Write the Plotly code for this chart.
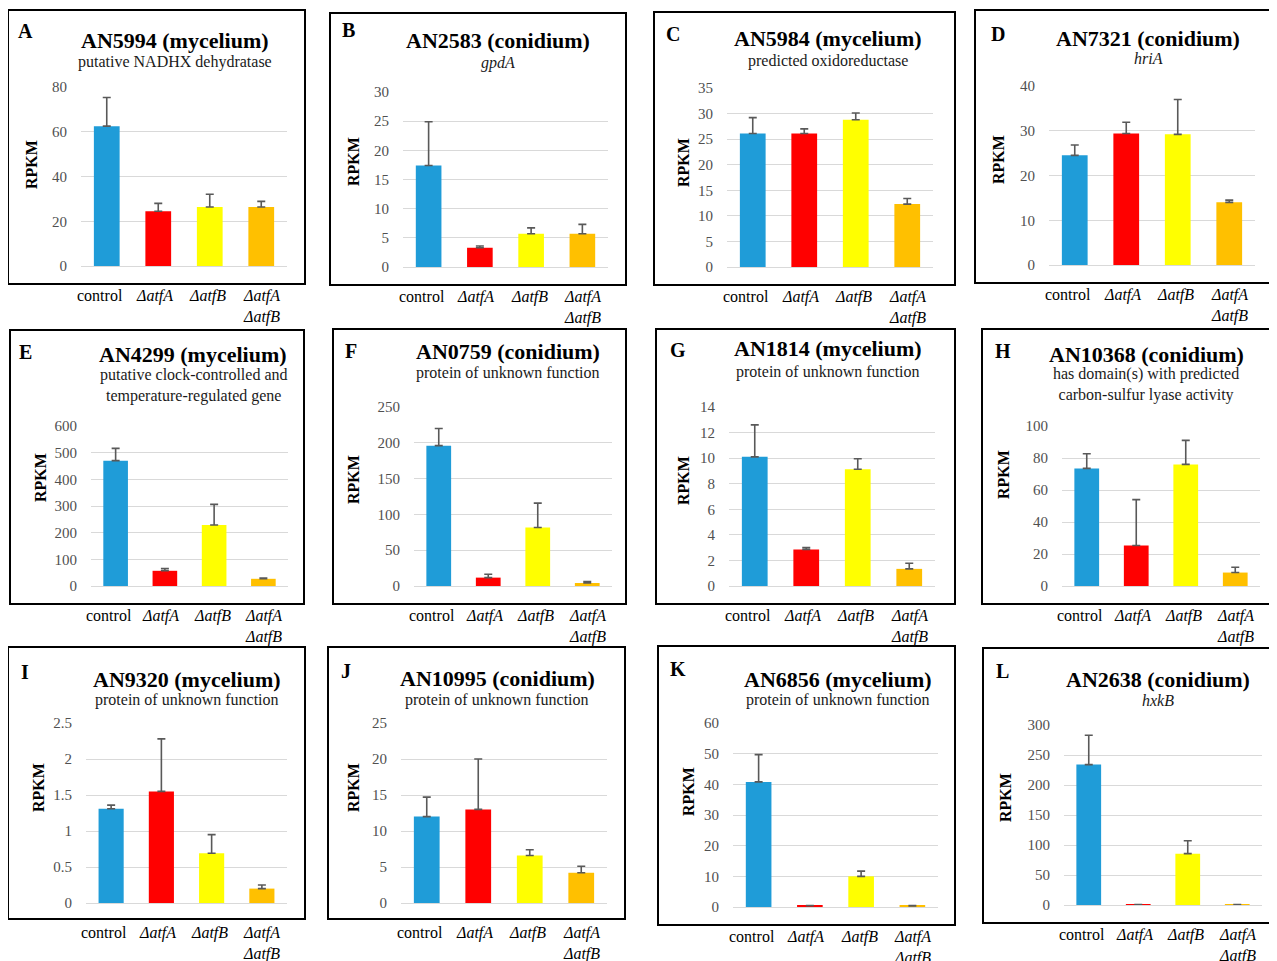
import plotly.graph_objects as go

# ---------------- data ----------------
categories = ["control", "ΔatfA", "ΔatfB", "ΔatfA ΔatfB"]
category_labels = ["control", "<i>ΔatfA</i>", "<i>ΔatfB</i>", "<i>ΔatfA<br>ΔatfB</i>"]
bar_colors = ["#1F9CD8", "#FF0000", "#FFFF00", "#FFC000"]

panel_letters = ["A", "B", "C", "D", "E", "F", "G", "H", "I", "J", "K", "L"]
panel_titles = ["AN5994 (mycelium)", "AN2583 (conidium)", "AN5984 (mycelium)", "AN7321 (conidium)",
                "AN4299 (mycelium)", "AN0759 (conidium)", "AN1814 (mycelium)", "AN10368 (conidium)",
                "AN9320 (mycelium)", "AN10995 (conidium)", "AN6856 (mycelium)", "AN2638 (conidium)"]
panel_subtitles = ["putative NADHX dehydratase", "<i>gpdA</i>", "predicted oxidoreductase", "<i>hriA</i>",
                   "putative clock-controlled and<br>temperature-regulated gene",
                   "protein of unknown function", "protein of unknown function",
                   "has domain(s) with predicted<br>carbon-sulfur lyase activity",
                   "protein of unknown function", "protein of unknown function",
                   "protein of unknown function", "<i>hxkB</i>"]

AN5994_mean = [62.5, 24.5, 26.4, 26.4]
AN5994_err = [12.8, 3.5, 5.7, 2.5]
AN2583_mean = [17.4, 3.3, 5.7, 5.7]
AN2583_err = [7.5, 0.3, 1.0, 1.6]
AN5984_mean = [26.1, 26.1, 28.8, 12.3]
AN5984_err = [3.1, 0.9, 1.3, 1.1]
AN7321_mean = [24.5, 29.4, 29.2, 14.0]
AN7321_err = [2.3, 2.5, 7.8, 0.5]
AN4299_mean = [470, 57, 229, 27]
AN4299_err = [46, 8, 77, 3]
AN0759_mean = [196, 11.7, 81.8, 4.2]
AN0759_err = [24, 4.7, 34, 2]
AN1814_mean = [10.1, 2.85, 9.13, 1.34]
AN1814_err = [2.5, 0.15, 0.82, 0.44]
AN10368_mean = [73.5, 25.3, 76.0, 8.4]
AN10368_err = [9.2, 28.7, 15.0, 3.3]
AN9320_mean = [1.31, 1.55, 0.69, 0.20]
AN9320_err = [0.05, 0.73, 0.26, 0.05]
AN10995_mean = [12.0, 13.0, 6.6, 4.2]
AN10995_err = [2.7, 7.0, 0.8, 0.9]
AN6856_mean = [40.8, 0.4, 10.0, 0.35]
AN6856_err = [8.9, 0.1, 1.7, 0.1]
AN2638_mean = [234, 0.5, 85.6, 0.5]
AN2638_err = [49, 0.3, 21.4, 0.3]

y_max = [80, 30, 35, 40, 600, 250, 14, 100, 2.5, 25, 60, 300]
y_dtick = [20, 5, 5, 10, 100, 50, 2, 20, 0.5, 5, 10, 50]

means = [AN5994_mean, AN2583_mean, AN5984_mean, AN7321_mean, AN4299_mean, AN0759_mean,
         AN1814_mean, AN10368_mean, AN9320_mean, AN10995_mean, AN6856_mean, AN2638_mean]
errs = [AN5994_err, AN2583_err, AN5984_err, AN7321_err, AN4299_err, AN0759_err,
        AN1814_err, AN10368_err, AN9320_err, AN10995_err, AN6856_err, AN2638_err]

# ---------------- layout geometry (pixels in the screenshot) ----------------
W, H = 1277, 961
OFF = 8  # default page body margin
# plot area: x0, x1, y_top(max tick), y_bottom(0)
plot_px = [(81, 287, 87, 266), (403, 608, 92, 267), (727, 933, 88, 267), (1049, 1255, 86, 265),
           (91, 288, 426, 586), (414, 612, 407, 586), (729, 935, 407, 586), (1062, 1260, 426, 586),
           (86, 287, 723, 903), (401, 607, 723, 903), (733, 938, 723, 907), (1064, 1262, 725, 905)]
# frame boxes: x0, y0, x1, y1
box_px = [(8, 10, 305, 284), (330, 13, 626, 285), (654, 12, 955, 285), (975, 10, 1273, 283),
          (10, 330, 304, 604), (333, 329, 626, 604), (656, 329, 955, 604), (982, 329, 1300, 604),
          (8, 647, 305, 919), (328, 647, 625, 919), (658, 646, 955, 925), (983, 648, 1300, 923)]
letter_px = [(25, 31), (348, 30), (673, 34), (998, 34), (25, 352), (351, 351), (678, 350), (1003, 351),
             (25, 672), (346, 671), (678, 669), (1002, 671)]
title_px = [(175, 41), (498, 40), (828, 39), (1148, 38), (193, 354), (508, 352), (828, 348), (1146, 355),
            (187, 679), (497, 678), (838, 679), (1158, 679)]
sub_px = [(175, 62), (498, 63), (828, 61), (1148, 59), (193, 385), (508, 373), (828, 372), (1146, 384),
          (187, 700), (497, 700), (838, 700), (1158, 700)]
rpkm_px = [(32, 165), (353, 162), (683, 162), (998, 160), (40, 478), (353, 480), (683, 480), (1003, 475),
           (38, 788), (353, 788), (688, 792), (1005, 798)]
label_shift_px = [-7, -4, -2, 0]


def fx(p):
    return (p - OFF) / W


def fy(p):
    return 1 - (p - OFF) / H


SERIF = "Liberation Serif, Times New Roman, serif"

fig = go.Figure()
layout = dict(
    width=W, height=H, margin=dict(l=0, r=0, t=0, b=0, pad=0, autoexpand=False),
    paper_bgcolor="white", plot_bgcolor="white", showlegend=False,
    bargap=0.5, font=dict(family=SERIF, color="#000000"),
)
annotations = []
shapes = []

for i in range(12):
    n = "" if i == 0 else str(i + 1)
    x0, x1, yt, yb = plot_px[i]
    fig.add_trace(go.Bar(
        x=categories, y=means[i], marker=dict(color=bar_colors, line=dict(width=0)),
        error_y=dict(type="data", array=errs[i], arrayminus=[0] * 4, symmetric=False,
                     color="#595959", thickness=1.6, width=4),
        xaxis="x" + n, yaxis="y" + n,
    ))
    layout["xaxis" + n] = dict(
        domain=[fx(x0), fx(x1)], anchor="y" + n, type="category", automargin=False,
        range=[-0.5, 3.5], showticklabels=False, ticks="",
        showline=True, linecolor="#D9D9D9", linewidth=1.3, showgrid=False, fixedrange=True,
    )
    layout["yaxis" + n] = dict(
        domain=[fy(yb), fy(yt)], anchor="x" + n, range=[0, y_max[i]], dtick=y_dtick[i], tick0=0,
        automargin=False,
        showgrid=True, gridcolor="#D9D9D9", gridwidth=1.3, zeroline=False, showline=False,
        ticks="outside", ticklen=10, tickcolor="rgba(0,0,0,0)",
        tickfont=dict(family=SERIF, size=15, color="#505050"), fixedrange=True,
    )
    # category labels, placed on the category axis
    for c, lab, sh in zip(categories, category_labels, label_shift_px):
        annotations.append(dict(text=lab, x=c, xref="x" + n, y=fy(yb + 19), yref="paper",
                                xshift=sh, showarrow=False, xanchor="center", yanchor="top",
                                align="center", font=dict(family=SERIF, size=16, color="#000000")))
    bx0, by0, bx1, by1 = box_px[i]
    shapes.append(dict(type="rect", xref="paper", yref="paper",
                       x0=fx(bx0), x1=fx(bx1), y0=fy(by1), y1=fy(by0),
                       line=dict(color="#000000", width=2), fillcolor="rgba(0,0,0,0)", layer="above"))
    lx, ly = letter_px[i]
    annotations.append(dict(text="<b>%s</b>" % panel_letters[i], x=fx(lx), y=fy(ly), xref="paper",
                            yref="paper", showarrow=False, xanchor="center", yanchor="middle",
                            font=dict(family=SERIF, size=20, color="#000000")))
    tx, ty = title_px[i]
    annotations.append(dict(text="<b>%s</b>" % panel_titles[i], x=fx(tx), y=fy(ty), xref="paper",
                            yref="paper", showarrow=False, xanchor="center", yanchor="middle",
                            font=dict(family=SERIF, size=22, color="#000000")))
    sx, sy = sub_px[i]
    annotations.append(dict(text=panel_subtitles[i], x=fx(sx), y=fy(sy), xref="paper",
                            yref="paper", showarrow=False, xanchor="center", yanchor="middle",
                            font=dict(family=SERIF, size=16, color="#1a1a1a")))
    rx, ry = rpkm_px[i]
    annotations.append(dict(text="<b>RPKM</b>", x=fx(rx), y=fy(ry), xref="paper",
                            yref="paper", showarrow=False, xanchor="center", yanchor="middle",
                            textangle=-90, font=dict(family=SERIF, size=16, color="#000000")))

layout["annotations"] = annotations
layout["shapes"] = shapes
fig.update_layout(**layout)
fig.write_html("out.html")
